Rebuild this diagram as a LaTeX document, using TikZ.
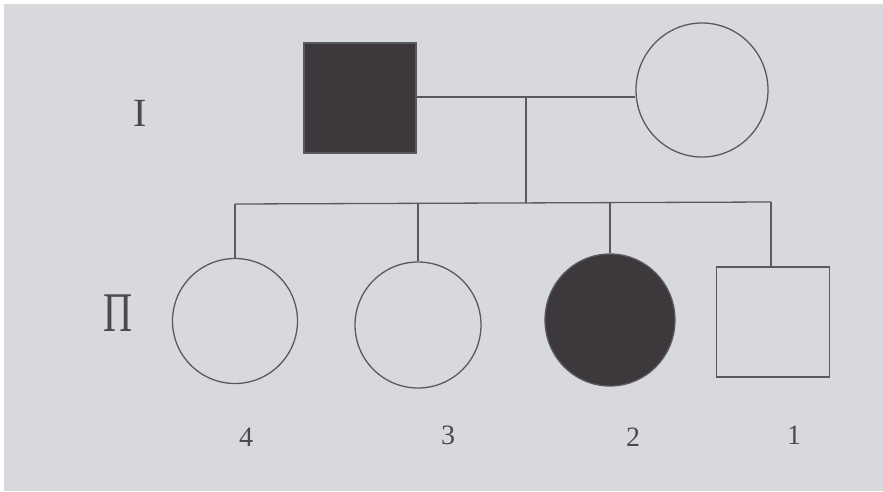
\documentclass[tikz,border=0pt]{standalone}
\usepackage{fontspec}
\setmainfont{Liberation Serif}
\usetikzlibrary{shapes.geometric}
\definecolor{paper}{HTML}{D8D9DD}
\definecolor{ink}{HTML}{5A5A5E}
\definecolor{textink}{HTML}{4A4A4E}
\definecolor{shade}{HTML}{3C383B}
\begin{document}
\begin{tikzpicture}[x=1pt,y=-1pt,
  line/.style={draw=ink,line width=1.3pt},
  male/.style={rectangle,draw=ink,line width=1.3pt,inner sep=0pt,minimum width=112pt,minimum height=110pt},
  female/.style={ellipse,draw=ink,line width=1.3pt,inner sep=0pt,minimum width=125pt,minimum height=125pt},
  affected/.style={fill=shade},
  gen/.style={text=textink,inner sep=0pt},
  num/.style={text=textink,inner sep=0pt,font=\fontsize{28}{30}\selectfont}]
\useasboundingbox (0,0) rectangle (883,491);
\fill[white] (0,0) rectangle (883,491);
\fill[paper] (4,4) rectangle (883,491);
% generation I
\node[male,affected] (f) at (360,98) {};
\node[female,minimum width=132pt,minimum height=134pt] (m) at (702,90) {};
% generation II
\node[female] (c4) at (235,321) {};
\node[female,minimum width=126pt,minimum height=126pt] (c3) at (418,325) {};
\node[female,affected,minimum width=130pt,minimum height=132pt] (c2) at (610,320) {};
\node[male,minimum width=113pt,minimum height=110pt] (c1) at (773,322) {};
% connectors
\coordinate (mar) at (526,97);
\coordinate (sib) at (526,203);
\coordinate (sibL) at (235,204);
\coordinate (sibR) at (771,202);
\draw[line] (f.east |- mar) -- (m.west |- mar);
\draw[line] (mar) -- (sib);
\draw[line] (sibL) -- (sibR);
\draw[line] (sibL) -- (c4.north);
\draw[line] (c3.north |- sib) -- (c3.north);
\draw[line] (c2.north |- sib) -- (c2.north);
\draw[line] (sibR) -- (sibR |- c1.north);
% labels
\node[gen,font=\fontsize{40}{40}\selectfont] (g1) at (140,113) {I};
\node[gen,font=\fontsize{56}{56}\selectfont,xscale=0.72] (g2) at (118,313) {Π};
\node[num] (n4) at (246,437) {4};
\node[num] (n3) at (448,435) {3};
\node[num] (n2) at (633,437) {2};
\node[num] (n1) at (794,435) {1};
\end{tikzpicture}
\end{document}
